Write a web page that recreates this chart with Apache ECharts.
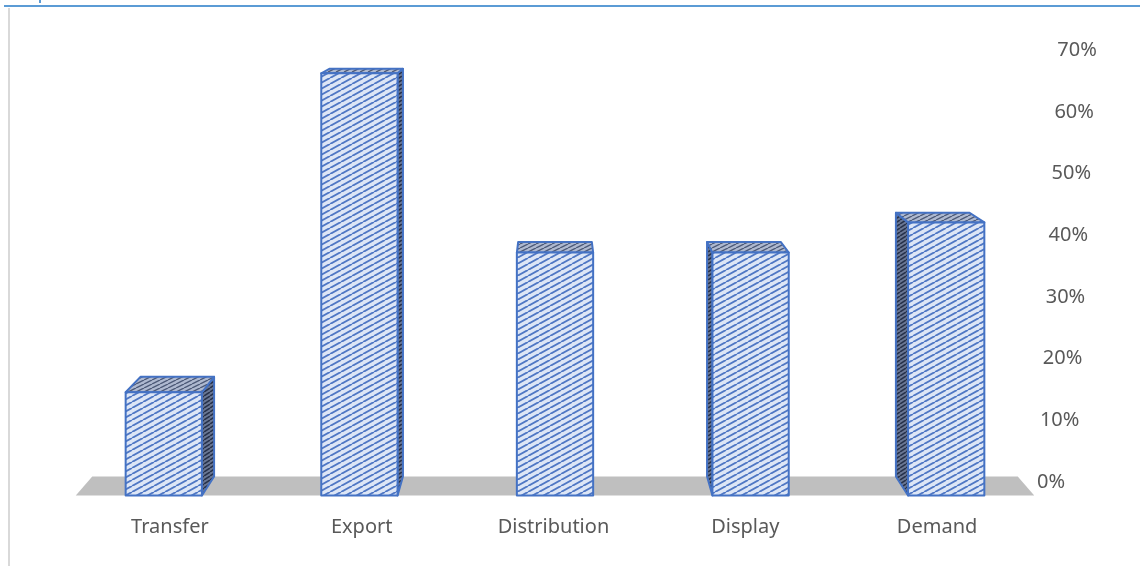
<!DOCTYPE html>
<html>
<head>
<meta charset="utf-8">
<script src="https://cdn.jsdelivr.net/npm/echarts@6/dist/echarts.min.js"></script>
<style>
  html, body { margin: 0; padding: 0; background: #ffffff; }
  #chart { width: 1140px; height: 566px; }
</style>
</head>
<body>
<div id="chart"></div>
<script>
// Share of responses per activity (percent)
const categories = ['Transfer', 'Export', 'Distribution', 'Display', 'Demand'];
const shares = [16.4, 67.1, 38.6, 38.6, 43.4];
const tickValues = [0, 10, 20, 30, 40, 50, 60, 70];

// One-point perspective used to give the columns and the floor their depth
const DEPTH = 0.0344;   // fraction of the way towards the vanishing point
const EYE_Y = -57;      // vanishing point height (px)

function hatch(w, h, bg, fg, lw) {
  const c = document.createElement('canvas');
  c.width = w; c.height = h;
  const g = c.getContext('2d');
  g.fillStyle = bg;
  g.fillRect(0, 0, w, h);
  g.strokeStyle = fg;
  g.lineWidth = lw;
  for (let k = -1; k <= 1; k++) {
    g.beginPath();
    g.moveTo(k * w, h);
    g.lineTo((k + 1) * w, 0);
    g.stroke();
  }
  return { image: c, repeat: 'repeat' };
}

const frontPat = hatch(11, 6, '#dde6f6', '#4f77c4', 1.9);
const sidePat = hatch(6, 4, '#6a7794', '#27324b', 1.5);
const topPat = hatch(8, 4, '#aeb9d0', '#4d5a78', 1.4);

const edge = { stroke: '#4472c4', lineWidth: 2, lineJoin: 'round' };

function project(p, vx) {
  return [p[0] + DEPTH * (vx - p[0]), p[1] + DEPTH * (EYE_Y - p[1])];
}

function renderColumn(params, api) {
  const i = api.value(0);
  const v = api.value(1);
  const base = api.coord([i, 0]);
  const top = api.coord([i, v]);
  const band = api.size([1, 0])[0];
  const hw = band * 0.195;
  const vx = api.coord([(categories.length - 1) / 2, 0])[0];
  const P = p => project(p, vx);
  const x0 = base[0] - hw, x1 = base[0] + hw;
  const yb = base[1], yt = top[1];
  const children = [];
  if (Math.abs(base[0] - vx) > 1) {
    const sx = base[0] < vx ? x1 : x0;
    children.push({
      type: 'polygon',
      shape: { points: [[sx, yt], [sx, yb], P([sx, yb]), P([sx, yt])] },
      style: Object.assign({ fill: sidePat }, edge)
    });
  }
  children.push({
    type: 'polygon',
    shape: { points: [[x0, yt], [x1, yt], P([x1, yt]), P([x0, yt])] },
    style: Object.assign({ fill: topPat }, edge)
  });
  children.push({
    type: 'rect',
    shape: { x: x0, y: yt, width: x1 - x0, height: yb - yt },
    style: Object.assign({ fill: frontPat }, edge)
  });
  return { type: 'group', children: children };
}

function renderFloor(params, api) {
  const first = api.coord([0, 0]);
  const last = api.coord([categories.length - 1, 0]);
  const band = api.size([1, 0])[0];
  const vx = (first[0] + last[0]) / 2;
  const fl = [first[0] - band * 0.45, first[1]];
  const fr = [last[0] + band * 0.45, last[1]];
  return {
    type: 'polygon',
    shape: { points: [fl, fr, project(fr, vx), project(fl, vx)] },
    style: { fill: '#bfbfbf' }
  };
}

const labelRich = {};
tickValues.forEach(t => {
  labelRich['t' + t] = {
    fontFamily: 'Noto Sans', fontSize: 20, color: '#595959',
    padding: [0, 0, 0, 4 + t * 0.29]
  };
});

const chart = echarts.init(document.getElementById('chart'), null, { renderer: 'canvas' });

chart.setOption({
  backgroundColor: '#ffffff',
  animation: false,
  graphic: [
    { type: 'line', shape: { x1: 4, y1: 6, x2: 1140, y2: 6 }, style: { stroke: '#5b9bd5', lineWidth: 2 } },
    { type: 'line', shape: { x1: 9, y1: 8, x2: 9, y2: 566 }, style: { stroke: '#d9d9d9', lineWidth: 2 } },
    { type: 'rect', shape: { x: 39, y: 0, width: 2, height: 3 }, style: { fill: '#5b9bd5' } }
  ],
  grid: [
    // front plane of the columns
    { left: 66, right: 96, top: 55, bottom: 70.5 },
    // plane carrying the axis labels
    { left: 74, right: 107, top: 50.5, bottom: 84 }
  ],
  xAxis: [
    { type: 'category', gridIndex: 0, data: categories, show: false },
    {
      type: 'category', gridIndex: 1, data: categories,
      axisLine: { show: false }, axisTick: { show: false },
      axisLabel: { margin: 35, fontFamily: 'Noto Sans', fontSize: 20, color: '#595959' }
    }
  ],
  yAxis: [
    { type: 'value', gridIndex: 0, min: 0, max: 70, interval: 10, show: false },
    {
      type: 'value', gridIndex: 1, position: 'right', min: 0, max: 70, interval: 10,
      axisLine: { show: false }, axisTick: { show: false }, splitLine: { show: false },
      axisLabel: {
        margin: 0, align: 'left',
        formatter: v => '{t' + v + '|' + v + '%}',
        rich: labelRich
      }
    }
  ],
  series: [
    {
      type: 'custom', xAxisIndex: 0, yAxisIndex: 0,
      renderItem: renderFloor, data: [[0]], silent: true, z: 1
    },
    {
      type: 'custom', xAxisIndex: 0, yAxisIndex: 0,
      renderItem: renderColumn,
      encode: { x: 0, y: 1 },
      data: shares.map((v, i) => [i, v]),
      z: 2
    }
  ]
});
</script>
</body>
</html>
